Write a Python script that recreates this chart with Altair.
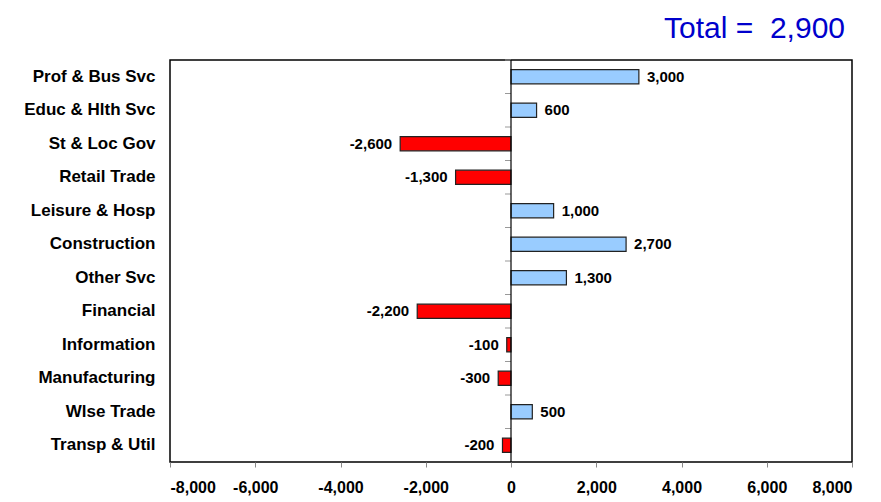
import altair as alt
import pandas as pd

categories = ["Prof & Bus Svc", "Educ & Hlth Svc", "St & Loc Gov", "Retail Trade",
              "Leisure & Hosp", "Construction", "Other Svc", "Financial",
              "Information", "Manufacturing", "Wlse Trade", "Transp & Util"]
values = [3000, 600, -2600, -1300, 1000, 2700, 1300, -2200, -100, -300, 500, -200]
x_ticks = [-8000, -6000, -4000, -2000, 0, 2000, 4000, 6000, 8000]
total_text = "Total =\u00a0 2,900"

def fmt(v):
    s = f"{abs(v):,}"
    return ("-" + s) if v < 0 else s

df = pd.DataFrame({
    "cat": categories,
    "val": values,
    "label": [fmt(v) for v in values],
    "sign": ["neg" if v < 0 else "pos" for v in values],
})

FONT = "Liberation Sans"
W, H = 682, 402
STEP = H / len(categories)

yscale = alt.Scale(domain=categories, paddingInner=0.58, paddingOuter=0.29)
xscale = alt.Scale(domain=[-8000, 8000], nice=False)

base = alt.Chart(df)

bars = base.mark_bar(stroke="#222222", strokeWidth=1.2).encode(
    y=alt.Y("cat:N", sort=categories, scale=yscale,
            axis=alt.Axis(title=None, ticks=False, domain=False, labelPadding=15,
                          labelFont=FONT, labelFontSize=17, labelFontWeight="bold",
                          labelColor="black", orient="left")),
    x=alt.X("val:Q", scale=xscale,
            axis=alt.Axis(title=None, values=x_ticks, grid=False, domain=False,
                          tickColor="#888888", tickSize=5, labelPadding=12,
                          labelFont=FONT, labelFontSize=16, labelFontWeight="bold",
                          labelColor="black",
                          labelExpr="datum.value < 0 ? '-' + format(-datum.value, ',') : format(datum.value, ',')")),
    color=alt.Color("sign:N", scale=alt.Scale(domain=["pos", "neg"], range=["#99CCFF", "#FF0000"]),
                    legend=None),
)

# small grey category-boundary ticks on the left side of the zero line
cat_ticks = base.mark_rule(color="#999999", strokeWidth=1, yOffset=-STEP / 2).encode(
    y=alt.Y("cat:N", sort=categories, scale=yscale),
    x=alt.value(W / 2 - 6),
    x2=alt.value(W / 2),
)

pos_text = base.transform_filter("datum.val >= 0").mark_text(
    align="left", baseline="middle", dx=8, font=FONT, fontSize=15, fontWeight="bold", color="black"
).encode(
    y=alt.Y("cat:N", sort=categories, scale=yscale),
    x=alt.X("val:Q", scale=xscale),
    text="label:N",
)

neg_text = base.transform_filter("datum.val < 0").mark_text(
    align="right", baseline="middle", dx=-8, font=FONT, fontSize=15, fontWeight="bold", color="black"
).encode(
    y=alt.Y("cat:N", sort=categories, scale=yscale),
    x=alt.X("val:Q", scale=xscale),
    text="label:N",
)

zero = alt.Chart(pd.DataFrame({"z": [0]})).mark_rule(color="black", strokeWidth=1.2).encode(
    x=alt.X("z:Q", scale=xscale)
)

title = alt.Chart(pd.DataFrame({"t": [total_text]})).mark_text(
    align="right", baseline="alphabetic", font=FONT, fontSize=30, color="#0000CC"
).encode(
    x=alt.value(675), y=alt.value(-22), text="t:N"
)

chart = alt.layer(bars, cat_ticks, zero, pos_text, neg_text, title).properties(
    width=W, height=H,
    background="white",
    autosize=alt.AutoSizeParams(type="none"),
    padding={"left": 170, "top": 60, "right": 29, "bottom": 40},
).configure_view(
    stroke="black", strokeWidth=1.5
)

chart.save("out.html", embed_options={"renderer": "svg", "actions": False})
